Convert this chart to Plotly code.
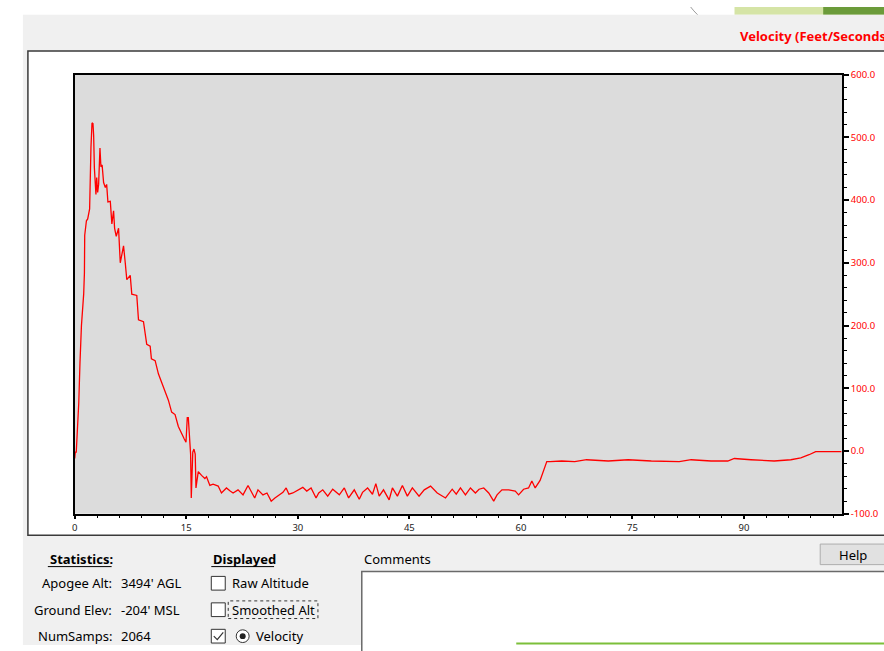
import plotly.graph_objects as go

W, H = 884, 651

time_s = [0.0, 0.07, 0.2, 0.33, 0.54, 0.7, 0.9, 1.2, 1.3, 1.34, 1.57, 1.74, 2.0, 2.18, 2.32, 2.45, 2.54, 2.64, 2.75, 2.85,
          2.95, 3.08, 3.21, 3.31, 3.39, 3.52, 3.68, 3.88, 4.11, 4.29, 4.46, 4.78, 4.99, 5.22, 5.36, 5.58, 5.89, 6.12, 6.56, 6.79,
          7.0, 7.46, 7.67, 8.34, 8.57, 9.24, 9.68, 10.14, 10.31, 10.81, 11.25, 11.69, 12.15, 12.59, 13.03, 13.49, 13.93, 14.37, 14.73, 14.96,
          15.13, 15.27, 15.4, 15.58, 15.67, 15.74, 15.87, 16.03, 16.2, 16.3, 16.47, 16.61, 17.05, 17.5, 17.72, 18.17, 18.6, 19.29, 19.73, 20.4,
          20.9, 21.29, 21.96, 22.63, 23.3, 23.7, 24.2, 24.64, 25.31, 25.85, 26.42, 26.92, 27.55, 28.0, 28.43, 28.8, 29.33, 30.0, 30.67, 31.2,
          31.78, 32.45, 32.81, 33.35, 34.02, 34.69, 35.58, 36.25, 36.83, 37.59, 38.26, 38.7, 39.38, 40.04, 40.49, 40.94, 41.52, 42.28, 42.72, 43.39,
          44.06, 44.73, 45.4, 46.3, 47.0, 47.85, 48.75, 49.86, 50.76, 51.3, 51.87, 52.54, 53.21, 53.88, 54.37, 55.0, 55.67, 56.34, 56.79, 57.45,
          58.35, 59.24, 59.69, 60.36, 61.03, 61.47, 61.92, 62.58, 63.04, 63.48, 63.93, 65.49, 67.23, 68.84, 71.75, 74.42, 77.54, 80.62, 81.29, 82.9,
          85.58, 87.82, 88.7, 90.94, 94.06, 96.3, 97.64, 98.75, 99.64, 102.45, 103.1]
velocity_fps = [-12, -2, -2, 23, 77, 140, 200, 250, 284, 344, 367, 370, 386, 484, 523, 522, 503, 451, 417, 409,
                436, 412, 425, 467, 483, 453, 456, 428, 420, 425, 397, 398, 362, 383, 355, 342, 355, 300, 327, 300,
                273, 280, 250, 248, 209, 206, 170, 167, 147, 144, 123, 109, 94, 81, 62, 58, 39, 27, 19, 14,
                53, 53, 19, -5, -75, -28, -2, 3, -5, -59, -41, -33, -39, -44, -41, -55, -53, -56, -67, -59,
                -64, -67, -62, -70, -55, -64, -75, -62, -70, -67, -80, -75, -70, -66, -59, -69, -67, -62, -58, -64,
                -59, -75, -67, -62, -72, -61, -70, -59, -75, -62, -77, -66, -59, -69, -52, -72, -62, -78, -59, -72,
                -55, -72, -59, -72, -62, -56, -67, -75, -61, -69, -59, -70, -59, -67, -61, -59, -67, -80, -70, -62,
                -62, -64, -70, -61, -59, -48, -59, -47, -33, -17, -17, -16, -17, -14, -16, -14, -16, -16, -17, -14,
                -16, -16, -12, -14, -16, -14, -11, -6, -1, -1, -1]

x_ticks = [0, 15, 30, 45, 60, 75, 90]
y_ticks = [-100, 0, 100, 200, 300, 400, 500, 600]
y_tick_labels = ["-100.0", "0.0", "100.0", "200.0", "300.0", "400.0", "500.0", "600.0"]

stat_labels = ["Apogee Alt:", "Ground Elev:", "NumSamps:"]
stat_values = ["3494' AGL", "-204' MSL", "2064"]
displayed_items = ["Raw Altitude", "Smoothed Alt", "Velocity"]
displayed_checked = [False, False, True]

FONT = "Noto Sans"


def px(x):
    return x / W


def py(y):
    return 1 - y / H


shapes = []
annotations = []


def rect(x0, y0, x1, y1, fill=None, line=None, lw=1, dash=None, layer="below"):
    shapes.append(dict(type="rect", xref="paper", yref="paper",
                       x0=px(x0), x1=px(x1), y0=py(y1), y1=py(y0),
                       fillcolor=fill if fill else "rgba(0,0,0,0)",
                       line=dict(color=line if line else "rgba(0,0,0,0)", width=lw if line else 0,
                                 dash=dash if dash else "solid"),
                       layer=layer))


def hline(x0, x1, y, color, lw=1, layer="below"):
    shapes.append(dict(type="line", xref="paper", yref="paper", x0=px(x0), x1=px(x1), y0=py(y), y1=py(y),
                       line=dict(color=color, width=lw), layer=layer))


def text(x, y, s, size=13, color="#000000", xanchor="left", bold=False):
    if bold:
        s = "<b>" + s + "</b>"
    annotations.append(dict(xref="paper", yref="paper", x=px(x), y=py(y), text=s, showarrow=False,
                            xanchor=xanchor, yanchor="middle", font=dict(family=FONT, size=size, color=color)))


# desktop decoration top right
rect(734, 0, 884, 8, fill="#d5e4a6")
rect(823, 0, 884, 8, fill="#6b9b3a")
shapes.append(dict(type="path", xref="paper", yref="paper",
                   path=f"M {px(690)},{py(0)} Q {px(693)},{py(4)} {px(697)},{py(8)}",
                   line=dict(color="#9a9a9a", width=1), layer="below"))
# window gray background
rect(20, 8, 884, 651, fill="#f0f0f0")
# white chart panel
rect(25, 45, 890, 539, fill="#ffffff", line="#3a3a3a", lw=1.5)
# plot area gray
rect(72, 69, 842, 517, fill="#dcdcdc")
# comments box
rect(360, 576, 890, 660, fill="#ffffff", line="#6a6a6a", lw=1.5)
hline(515, 884, 649.5, "#7cbf3a", 2)
# help button
rect(820, 548, 890, 569, fill="#e1e1e1", line="#adadad", lw=1)

# texts
text(738, 30, "Velocity (Feet/Seconds)", size=13, color="#ff0000", bold=True)
text(45, 563, "Statistics:", bold=True)
hline(45, 109, 571, "#000000", 1)
text(209, 563, "Displayed", bold=True)
hline(209, 272, 571, "#000000", 1)
text(360, 563, "Comments")
text(853, 559, "Help", xanchor="center")
for i, (lab, val) in enumerate(zip(stat_labels, stat_values)):
    yy = 588 + i * 27
    text(111, yy, lab, xanchor="right")
    text(116, yy, val)

for i, (lab, chk) in enumerate(zip(displayed_items, displayed_checked)):
    yy = 588 + i * 27
    rect(209, yy - 7, 223, yy + 7, fill="#ffffff", line="#333333", lw=1, layer="above")
    if chk:
        shapes.append(dict(type="path", xref="paper", yref="paper",
                           path=f"M {px(211.5)},{py(yy)} L {px(215)},{py(yy + 3.5)} L {px(221)},{py(yy - 4)}",
                           line=dict(color="#333333", width=1.2), layer="above"))
        # radio button
        shapes.append(dict(type="circle", xref="paper", yref="paper", x0=px(234), x1=px(247),
                           y0=py(yy + 6.5), y1=py(yy - 6.5), line=dict(color="#333333", width=1),
                           fillcolor="#ffffff", layer="above"))
        shapes.append(dict(type="circle", xref="paper", yref="paper", x0=px(237.5), x1=px(243.5),
                           y0=py(yy + 3), y1=py(yy - 3), line=dict(width=0),
                           fillcolor="#222222", layer="above"))
        text(252, yy, lab)
    else:
        text(228, yy, lab)
        if lab == "Smoothed Alt":
            rect(226, yy - 9, 316, yy + 9, line="#333333", lw=1, dash="dot", layer="above")

fig = go.Figure()
fig.add_trace(go.Scatter(x=time_s, y=velocity_fps, mode="lines",
                         line=dict(color="#ff0000", width=1.3), hoverinfo="skip"))

fig.update_layout(
    width=W, height=H,
    margin=dict(l=0, r=0, t=0, b=0),
    paper_bgcolor="#ffffff",
    plot_bgcolor="rgba(0,0,0,0)",
    showlegend=False,
    shapes=shapes,
    annotations=annotations,
    xaxis=dict(domain=[px(72), px(842)], range=[0, 103.2], tickvals=x_ticks,
               ticktext=[str(v) for v in x_ticks],
               ticks="outside", ticklen=4, tickcolor="#000000", tickwidth=1.5,
               minor=dict(dtick=3, tick0=0, ticks="outside", ticklen=3, tickcolor="#000000", tickwidth=1.2, showgrid=False),
               showgrid=False, zeroline=False, showline=True, linecolor="#000000", linewidth=1.5, mirror=True,
               tickfont=dict(family=FONT, size=9.5, color="#222222"), fixedrange=True),
    yaxis=dict(domain=[py(517), py(69)], range=[-100, 600], side="right", tickvals=y_ticks,
               ticktext=y_tick_labels,
               ticks="outside", ticklen=5, tickcolor="#000000", tickwidth=1.5,
               minor=dict(dtick=20, tick0=0, ticks="outside", ticklen=3, tickcolor="#000000", tickwidth=1.2, showgrid=False),
               showgrid=False, zeroline=False, showline=True, linecolor="#000000", linewidth=1.5, mirror=True,
               tickfont=dict(family=FONT, size=9.5, color="#ff0000"), fixedrange=True),
)

fig.write_html("out.html",
               post_script="document.body.style.margin='0';document.body.style.overflow='hidden';")
